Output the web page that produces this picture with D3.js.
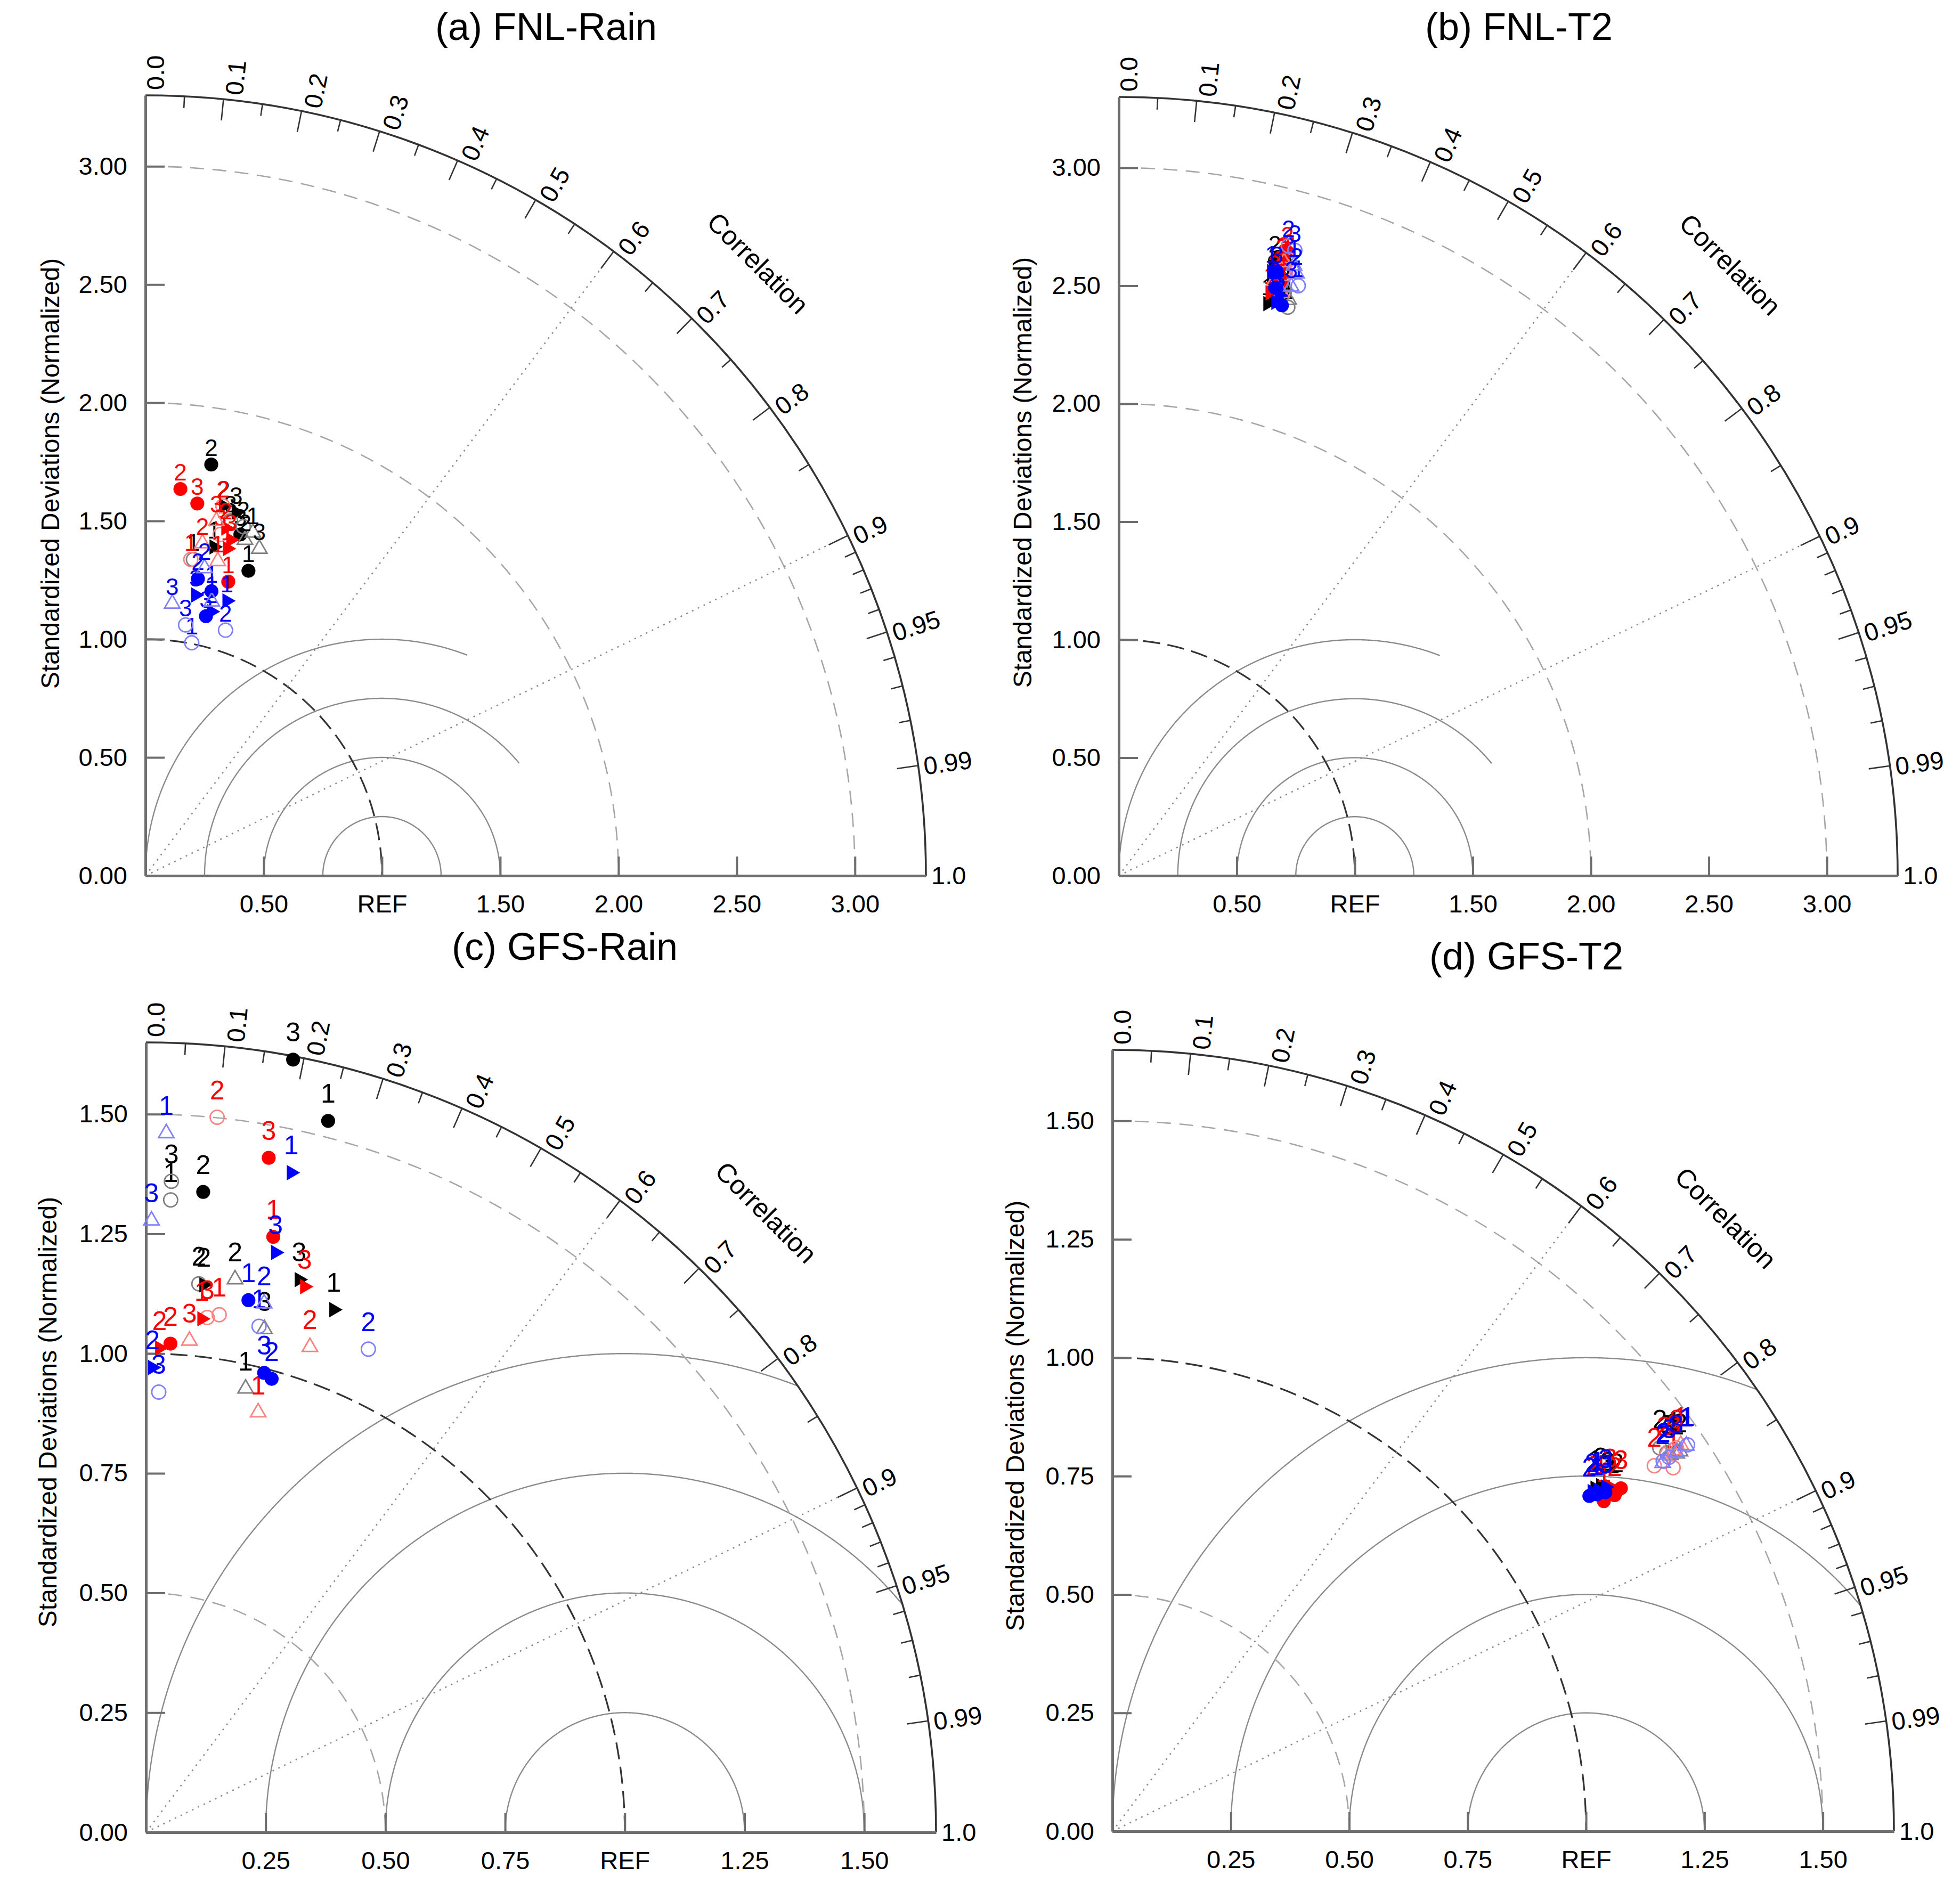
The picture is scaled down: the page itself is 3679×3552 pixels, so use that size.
<!DOCTYPE html>
<html>
<head>
<meta charset="utf-8">
<script src="https://cdn.jsdelivr.net/npm/d3@7"></script>
<style>
  body { margin: 0; background: #fff; }
  text { font-family: "Liberation Sans", Arial, Helvetica, sans-serif; }
</style>
</head>
<body>
<svg id="chart"></svg>
<script>
const width = 3679
const height = 3552

// correlation axis
const corrLabelValues = [0, 0.1, 0.2, 0.3, 0.4, 0.5, 0.6, 0.7, 0.8, 0.9, 0.95, 0.99, 1.0];
const corrLabelText = ["0.0", "0.1", "0.2", "0.3", "0.4", "0.5", "0.6", "0.7", "0.8", "0.9", "0.95", "0.99", "1.0"];
const corrMajor = [0.1, 0.2, 0.3, 0.4, 0.5, 0.6, 0.7, 0.8, 0.9, 0.95, 0.99];
const corrMinor = [0.05, 0.15, 0.25, 0.35, 0.45, 0.55, 0.65, 0.75, 0.85, 0.91, 0.92, 0.93, 0.94, 0.96, 0.97, 0.98];
const corrRays = [0.6, 0.9];
const rmsRadii = [0.25, 0.5, 0.75, 1.0];

// series: 3 experiments (colour) x 4 marker kinds, each with cases 1..3
const expColors = ["#000000", "#ff0000", "#0000ff"];
const expLight = ["#808080", "#ff8080", "#8080ff"];
const markerKinds = ["dot", "ring", "tri", "openTri"];
const caseLabels = ["1", "2", "3"];

// (a) FNL-Rain : normalized std ratio / correlation, rows = series, cols = case 1,2,3
const fnlRainRatio = [
  [1.361, 1.761, 1.498], [1.352, 1.533, 1.543], [1.420, 1.598, 1.584], [1.520, 1.481, 1.464],
  [1.292, 1.642, 1.589], [1.351, 1.597, 1.477], [1.426, 1.509, 1.465], [1.365, 1.426, 1.530],
  [1.235, 1.275, 1.127], [1.004, 1.092, 1.074], [1.212, 1.151, 1.206], [1.193, 1.324, 1.156]
];
const fnlRainCorr = [
  [0.320, 0.158, 0.268], [0.150, 0.270, 0.233], [0.204, 0.207, 0.242], [0.299, 0.284, 0.329],
  [0.271, 0.090, 0.138], [0.142, 0.205, 0.214], [0.243, 0.225, 0.246], [0.224, 0.169, 0.196],
  [0.226, 0.174, 0.227], [0.195, 0.310, 0.158], [0.284, 0.242, 0.176], [0.235, 0.189, 0.098]
];

// (b) FNL-T2
const fnlT2Ratio = [
  [2.584, 2.688, 2.634], [2.513, 2.567, 2.613], [2.505, 2.526, 2.550], [2.544, 2.596, 2.647],
  [2.607, 2.738, 2.681], [2.648, 2.708, 2.664], [2.552, 2.574, 2.629], [2.565, 2.693, 2.605],
  [2.514, 2.578, 2.646], [2.613, 2.764, 2.753], [2.641, 2.519, 2.552], [2.690, 2.661, 2.601]
];
const fnlT2Corr = [
  [0.265, 0.246, 0.257], [0.285, 0.273, 0.264], [0.252, 0.259, 0.271], [0.283, 0.270, 0.268],
  [0.263, 0.261, 0.258], [0.267, 0.266, 0.263], [0.251, 0.260, 0.259], [0.269, 0.260, 0.253],
  [0.275, 0.257, 0.253], [0.291, 0.260, 0.271], [0.245, 0.264, 0.266], [0.276, 0.283, 0.281]
];

// (c) GFS-Rain
const gfsRainRatio = [
  [1.534, 1.343, 1.643], [1.322, 1.151, 1.361], [1.160, 1.150, 1.198], [0.950, 1.170, 1.080],
  [1.272, 1.022, 1.432], [1.092, 1.501, 1.083], [1.079, 1.012, 1.187], [0.908, 1.070, 1.031],
  [1.132, 0.983, 0.991], [1.083, 1.111, 0.920], [1.411, 0.971, 1.241], [1.461, 1.132, 1.278]
];
const gfsRainCorr = [
  [0.248, 0.089, 0.187], [0.039, 0.096, 0.039], [0.338, 0.105, 0.267], [0.219, 0.159, 0.229],
  [0.209, 0.050, 0.179], [0.140, 0.099, 0.118], [0.108, 0.028, 0.279], [0.258, 0.320, 0.088],
  [0.189, 0.267, 0.249], [0.218, 0.418, 0.029], [0.215, 0.014, 0.218], [0.029, 0.218, 0.009]
];

// (d) GFS-T2
const gfsT2Ratio = [
  [1.275, 1.284, 1.269], [1.433, 1.411, 1.417], [1.250, 1.263, 1.270], [1.434, 1.442, 1.421],
  [1.250, 1.276, 1.295], [1.411, 1.380, 1.440], [1.254, 1.240, 1.278], [1.451, 1.410, 1.430],
  [1.246, 1.231, 1.263], [1.463, 1.401, 1.416], [1.253, 1.241, 1.270], [1.460, 1.398, 1.434]
];
const gfsT2Corr = [
  [0.828, 0.829, 0.826], [0.827, 0.819, 0.826], [0.815, 0.816, 0.823], [0.831, 0.831, 0.829],
  [0.830, 0.831, 0.829], [0.839, 0.829, 0.827], [0.822, 0.819, 0.822], [0.827, 0.826, 0.829],
  [0.821, 0.818, 0.824], [0.830, 0.830, 0.830], [0.818, 0.816, 0.820], [0.830, 0.831, 0.830]
];

const bigTicks = [0, 0.5, 1, 1.5, 2, 2.5, 3];
const smallTicks = [0, 0.25, 0.5, 0.75, 1, 1.25, 1.5];

const panels = [
  { title: "(a) FNL-Rain", ratio: fnlRainRatio, corr: fnlRainCorr, ox: 273, oy: 1644, max: 3.3, R: 1465,
    ticks: bigTicks, stdArcs: [2, 3], titleX: 1025, titleY: 75, ylabX: 94, ylabY: 889, lblOff: 32, lblSize: 44 },
  { title: "(b) FNL-T2", ratio: fnlT2Ratio, corr: fnlT2Corr, ox: 2100, oy: 1644, max: 3.3, R: 1462,
    ticks: bigTicks, stdArcs: [2, 3], titleX: 2851, titleY: 75, ylabX: 1919, ylabY: 887, lblOff: 32, lblSize: 44 },
  { title: "(c) GFS-Rain", ratio: gfsRainRatio, corr: gfsRainCorr, ox: 274, oy: 3440, max: 1.65, R: 1483,
    ticks: smallTicks, stdArcs: [0.5, 1.5], titleX: 1060, titleY: 1802, ylabX: 89, ylabY: 2651, lblOff: 52, lblSize: 50 },
  { title: "(d) GFS-T2", ratio: gfsT2Ratio, corr: gfsT2Corr, ox: 2088, oy: 3438, max: 1.65, R: 1467,
    ticks: smallTicks, stdArcs: [0.5, 1.5], titleX: 2865, titleY: 1820, ylabX: 1905, ylabY: 2658, lblOff: 54, lblSize: 50 }
];

const svg = d3.select("#chart")
  .attr("width", width)
  .attr("height", height)
  .attr("viewBox", [0, 0, width, height]);

svg.append("rect").attr("width", width).attr("height", height).attr("fill", "#fff");

const rmsClip = 1.65;
const fmt = d3.format(".2f");

const drawPanel = (p) => {
  const g = svg.append("g").attr("transform", `translate(${p.ox},${p.oy})`);
  const r = d3.scaleLinear().domain([0, p.max]).range([0, p.R]);
  const y = d3.scaleLinear().domain([0, p.max]).range([0, -p.R]);
  const px = (s, c) => r(s * c);
  const py = (s, c) => -r(s * Math.sqrt(1 - c * c));
  const line = d3.line().x(d => r(d[0])).y(d => -r(d[1]));

  // centred RMS circles around REF
  rmsRadii.forEach((rr) => {
    const pts = d3.range(0, 1441)
      .map(i => Math.PI - i * Math.PI / 1440)
      .map(a => [1 + rr * Math.cos(a), rr * Math.sin(a)])
      .filter(d => Math.hypot(d[0], d[1]) <= rmsClip);
    g.append("path")
      .attr("d", line(pts))
      .attr("fill", "none")
      .attr("stroke", "#8a8a8a")
      .attr("stroke-width", 2.4);
  });

  // std dev arcs
  const arcPath = (s) => {
    const path = d3.path();
    path.arc(0, 0, r(s), -Math.PI / 2, 0);
    return path.toString();
  };
  p.stdArcs.forEach((s) => {
    g.append("path")
      .attr("d", arcPath(s))
      .attr("fill", "none")
      .attr("stroke", "#a6a6a6")
      .attr("stroke-width", 2.6)
      .attr("stroke-dasharray", "26,16");
  });
  g.append("path")
    .attr("d", arcPath(1))
    .attr("fill", "none")
    .attr("stroke", "#333")
    .attr("stroke-width", 3.2)
    .attr("stroke-dasharray", "32,14");

  // correlation rays
  corrRays.forEach((c) => {
    g.append("line")
      .attr("x1", 0).attr("y1", 0)
      .attr("x2", px(p.max, c)).attr("y2", py(p.max, c))
      .attr("stroke", "#8a8a8a")
      .attr("stroke-width", 2.6)
      .attr("stroke-dasharray", "3,9");
  });

  // outer arc
  g.append("path")
    .attr("d", arcPath(p.max))
    .attr("fill", "none")
    .attr("stroke", "#333")
    .attr("stroke-width", 3.6);

  // correlation ticks
  const tick = (c, len) => {
    g.append("line")
      .attr("x1", px(p.max, c)).attr("y1", py(p.max, c))
      .attr("x2", px(p.max - r.invert(len), c)).attr("y2", py(p.max - r.invert(len), c))
      .attr("stroke", "#333")
      .attr("stroke-width", 2.6);
  };
  corrMajor.forEach(c => tick(c, 40));
  corrMinor.forEach(c => tick(c, 22));

  corrLabelValues.forEach((c, i) => {
    const th = Math.acos(c);
    const rad = p.R + 10;
    g.append("text")
      .attr("transform", `translate(${rad * Math.cos(th)},${-rad * Math.sin(th)}) rotate(${-th * 180 / Math.PI})`)
      .attr("dy", `${0.35 + 0.4 * Math.sin(th)}em`)
      .attr("text-anchor", "start")
      .attr("font-size", 47)
      .text(corrLabelText[i]);
  });

  const cr = p.R * 1.11;
  g.append("text")
    .attr("transform", `translate(${cr * Math.SQRT1_2},${-cr * Math.SQRT1_2}) rotate(45)`)
    .attr("dy", "0.35em")
    .attr("text-anchor", "middle")
    .attr("font-size", 50)
    .text("Correlation");

  // axes
  const yAxis = g.append("g")
    .call(d3.axisLeft(y).tickValues(p.ticks).tickFormat(fmt)
      .tickSizeInner(-36).tickSizeOuter(0).tickPadding(34));
  const xAxis = g.append("g")
    .call(d3.axisBottom(r).tickValues(p.ticks.filter(d => d > 0))
      .tickFormat(d => d === 1 ? "REF" : fmt(d))
      .tickSizeInner(-36).tickSizeOuter(0).tickPadding(36));
  [yAxis, xAxis].forEach((ax) => {
    ax.attr("font-size", 47).attr("font-family", null);
    ax.select(".domain").attr("stroke", "#6e6e6e").attr("stroke-width", 5);
    ax.selectAll(".tick line").attr("stroke", "#6e6e6e").attr("stroke-width", 4);
    ax.selectAll(".tick text").attr("fill", "#000");
  });

  // points
  p.ratio.forEach((row, i) => {
    const ci = Math.floor(i / 4);
    const kind = markerKinds[i % 4];
    row.forEach((s, j) => {
      const c = p.corr[i][j];
      const x = px(s, c), yy = py(s, c);
      let mark;
      if (kind === "dot" || kind === "ring") {
        mark = g.append("path").attr("d", d3.symbol(d3.symbolCircle, 540)());
      } else {
        mark = g.append("path").attr("d", d3.symbol(d3.symbolTriangle, 360)());
      }
      const rot = kind === "tri" ? 90 : 0;
      mark.attr("transform", `translate(${x},${yy}) rotate(${rot})`);
      if (kind === "dot" || kind === "tri") {
        mark.attr("fill", expColors[ci]);
      } else {
        mark.attr("fill", "none").attr("stroke", expLight[ci]).attr("stroke-width", 2.8);
      }
      g.append("text")
        .attr("x", x)
        .attr("y", yy - p.lblOff)
        .attr("dy", "0.36em")
        .attr("text-anchor", "middle")
        .attr("font-size", p.lblSize)
        .attr("fill", expColors[ci])
        .text(caseLabels[j]);
    });
  });

  // titles
  svg.append("text")
    .attr("x", p.titleX).attr("y", p.titleY)
    .attr("text-anchor", "middle")
    .attr("font-size", 72)
    .text(p.title);

  svg.append("text")
    .attr("transform", `translate(${p.ylabX},${p.ylabY}) rotate(-90)`)
    .attr("dy", "0.35em")
    .attr("text-anchor", "middle")
    .attr("font-size", 48)
    .text("Standardized Deviations (Normalized)");
};

panels.forEach(drawPanel);
</script>
</body>
</html>
